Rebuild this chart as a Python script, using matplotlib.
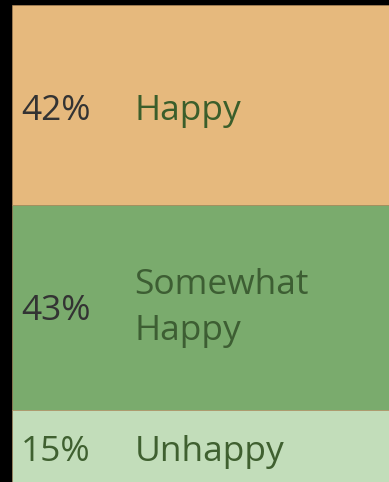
import matplotlib
matplotlib.use("Agg")
import matplotlib.pyplot as plt
import numpy as np

# survey answers, top to bottom
categories = ["Happy", "Somewhat\nHappy", "Unhappy"]
shares = [42, 43, 15]
fill_colors = ["#E6B97D", "#7AAB6D", "#C2DDBA"]
pct_colors = ["#333333", "#333333", "#3F6030"]
name_colors = ["#3B5E2B", "#3D5E33", "#3F6030"]

plt.rcParams['font.family'] = ['Open Sans', 'DejaVu Sans']

W, H = 389, 482
fig = plt.figure(figsize=(W / 100, H / 100), dpi=100, facecolor="black")
ax = fig.add_axes([12 / W, 0, 1 - 12 / W, 477 / H])
ax.set_facecolor("black")

bottoms = np.concatenate([[0], np.cumsum(shares)[:-1]])
ax.bar([0] * len(shares), shares, bottom=bottoms, width=1.0,
       color=fill_colors, edgecolor="#B89060", linewidth=0.4, align="center")

ax.set_xlim(-0.5, 0.5)
ax.set_ylim(sum(shares), 0)
ax.axis("off")

for b, v, name, pc, nc in zip(bottoms, shares, categories, pct_colors, name_colors):
    mid = b + v / 2
    # single-line labels sit a little below the middle of the segment
    shift = 0.0 if "\n" in name else 1.3
    ax.text(-0.383, mid + shift + (0.6 if "\n" in name else 0), f"{v}%",
            ha="center", va="center", fontsize=25.5, color=pc)
    ax.text(-0.175, mid + shift, name, ha="left", va="center",
            fontsize=25.5, color=nc, linespacing=1.45)

fig.savefig("out.png", dpi=100, facecolor="black")
